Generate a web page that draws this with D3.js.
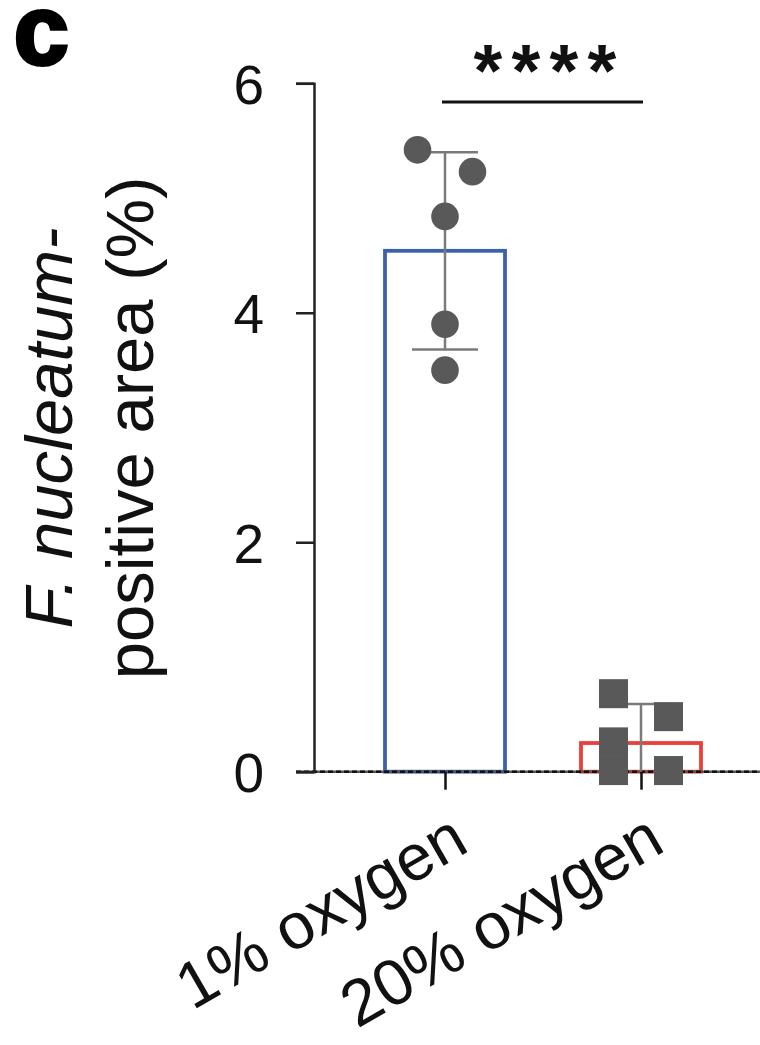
<!DOCTYPE html>
<html>
<head>
<meta charset="utf-8">
<script src="https://cdn.jsdelivr.net/npm/d3@7"></script>
<style>
  html, body { margin: 0; padding: 0; background: #fff; }
  svg { display: block; font-family: "Liberation Sans", Arial, Helvetica, sans-serif; }
</style>
</head>
<body>
<div id="chart"></div>
<script>
// --- 1. DATA ---
const groups = ["1% oxygen", "20% oxygen"];
const means = [4.54, 0.25];
const sds = [0.86, 0.34];
const pointsLow = [5.42, 5.23, 4.84, 3.90, 3.50];     // 1% oxygen, circles
const pointsHigh = [0.68, 0.48, 0.26, 0.01, 0.01];    // 20% oxygen, squares
const jitterLow = [-1, 1, 0, 0, 0];
const jitterHigh = [-1, 1, -1, -1, 1];
const yTicks = [0, 2, 4, 6];
const barColors = ["#3d60ab", "#ec3f3a"];

// --- 2. SETUP ---
const W = 760, H = 1045;
const svg = d3.select("#chart").append("svg")
    .attr("width", W)
    .attr("height", H);

const axisX = 314;
const y = d3.scaleLinear().domain([0, 6]).range([771.7, 83.3]);
const x = d3.scalePoint().domain(groups).range([445, 641]);
const barW = 120;
const slot = 27.5;

// --- 3. BARS ---
svg.selectAll("rect.bar")
    .data(groups)
    .enter()
    .append("rect")
    .attr("class", "bar")
    .attr("x", d => x(d) - barW / 2)
    .attr("y", (d, i) => y(means[i]))
    .attr("width", barW)
    .attr("height", (d, i) => y(0) - y(means[i]))
    .attr("fill", "none")
    .attr("stroke", (d, i) => barColors[i])
    .attr("stroke-width", 3.8);

// --- 4. AXES ---
// x axis baseline (dotted look)
svg.append("line")
    .attr("x1", 296).attr("x2", W)
    .attr("y1", y(0)).attr("y2", y(0))
    .attr("stroke", "#555").attr("stroke-width", 2.5);
svg.append("line")
    .attr("x1", 296).attr("x2", W)
    .attr("y1", y(0)).attr("y2", y(0))
    .attr("stroke", "#111").attr("stroke-width", 2.5)
    .attr("stroke-dasharray", "5,3");

const yAxis = d3.axisLeft(y).tickValues(yTicks).tickSize(18).tickPadding(32).tickFormat(d3.format("d"));
const yG = svg.append("g")
    .attr("transform", `translate(${axisX},0)`)
    .call(yAxis);
yG.select(".domain").attr("stroke", "#222").attr("stroke-width", 2.5);
yG.selectAll(".tick line").attr("stroke", "#222").attr("stroke-width", 2.5);
yG.selectAll(".tick text")
    .attr("fill", "#111")
    .style("font-size", "55px")
    .attr("dy", "0.36em");

const xAxis = d3.axisBottom(x).tickSize(18).tickFormat("");
const xG = svg.append("g")
    .attr("transform", `translate(0,${y(0)})`)
    .call(xAxis);
xG.select(".domain").remove();
xG.selectAll(".tick line").attr("stroke", "#111").attr("stroke-width", 2.5);

// x labels, rotated
svg.selectAll("text.xlab")
    .data(groups)
    .enter()
    .append("text")
    .attr("class", "xlab")
    .attr("text-anchor", "end")
    .attr("transform", d => `translate(${x(d) + 26},${850}) rotate(-30)`)
    .attr("fill", "#111")
    .style("font-size", "65px")
    .text(d => d);

// y title
const yTitle = svg.append("text")
    .attr("transform", `translate(72,428) rotate(-90)`)
    .attr("text-anchor", "middle")
    .attr("fill", "#111")
    .style("font-size", "67px");
yTitle.append("tspan").style("font-style", "italic").text("F. nucleatum-");
svg.append("text")
    .attr("transform", `translate(153,428) rotate(-90)`)
    .attr("text-anchor", "middle")
    .attr("fill", "#111")
    .style("font-size", "67px")
    .text("positive area (%)");

// --- 5. ERROR BARS ---
const capW = 66;
groups.forEach((g, i) => {
    const top = means[i] + sds[i];
    const bot = Math.max(0, means[i] - sds[i]);
    const eg = svg.append("g").attr("stroke", "#7a7a7a").attr("stroke-width", 2.5);
    eg.append("line").attr("x1", x(g)).attr("x2", x(g)).attr("y1", y(top)).attr("y2", y(bot));
    eg.append("line").attr("x1", x(g) - capW / 2).attr("x2", x(g) + capW / 2).attr("y1", y(top)).attr("y2", y(top));
    if (bot > 0) {
        eg.append("line").attr("x1", x(g) - capW / 2).attr("x2", x(g) + capW / 2).attr("y1", y(bot)).attr("y2", y(bot));
    }
});

// --- 6. POINTS ---
svg.selectAll("circle.pt")
    .data(pointsLow)
    .enter()
    .append("circle")
    .attr("class", "pt")
    .attr("cx", (d, i) => x(groups[0]) + jitterLow[i] * slot)
    .attr("cy", d => y(d))
    .attr("r", 13.8)
    .attr("fill", "#595959");

const sq = 29;
svg.selectAll("rect.pt")
    .data(pointsHigh)
    .enter()
    .append("rect")
    .attr("class", "pt")
    .attr("x", (d, i) => x(groups[1]) + jitterHigh[i] * slot - sq / 2)
    .attr("y", d => y(d) - sq / 2)
    .attr("width", sq)
    .attr("height", sq)
    .attr("fill", "#595959");

// --- 7. SIGNIFICANCE ---
svg.append("line")
    .attr("x1", 442).attr("x2", 643)
    .attr("y1", 102).attr("y2", 102)
    .attr("stroke", "#111").attr("stroke-width", 3);
svg.selectAll("text.star")
    .data(d3.range(4))
    .enter()
    .append("text")
    .attr("class", "star")
    .attr("x", d => 545 + (d - 1.5) * 38)
    .attr("y", 96)
    .attr("text-anchor", "middle")
    .attr("fill", "#111")
    .style("font-size", "74px")
    .style("font-weight", "bold")
    .text("*");

// panel letter
svg.append("text")
    .attr("x", 14)
    .attr("y", 64)
    .attr("fill", "#000")
    .attr("stroke", "#000")
    .attr("stroke-width", 4)
    .style("font-size", "98px")
    .style("font-weight", "bold")
    .text("c");
</script>
</body>
</html>
